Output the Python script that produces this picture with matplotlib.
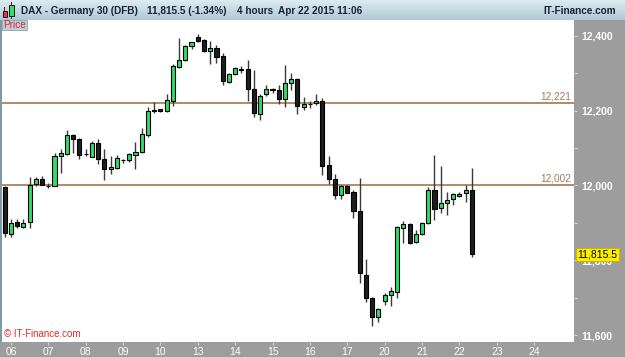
import matplotlib
matplotlib.use('Agg')
import matplotlib.pyplot as plt
import numpy as np
from matplotlib.patches import Rectangle
from matplotlib.transforms import blended_transform_factory
from matplotlib.ticker import MultipleLocator, FuncFormatter

plt.rcParams['font.family'] = ['Liberation Sans', 'DejaVu Sans']

# ---------------- data (4-hour candles, DAX DFB) ----------------
opens = [11997, 11869, 11901, 11890, 11901, 12003, 12018, 11999, 11999, 12079,
         12084, 12136, 12124, 12083, 12077, 12113, 12070, 12043, 12047, 12068,
         12068, 12081, 12089, 12135, 12202, 12204, 12198, 12227, 12318, 12335,
         12374, 12398, 12389, 12360, 12368, 12346, 12277, 12297, 12311, 12311,
         12257, 12191, 12245, 12257, 12255, 12230, 12273, 12284, 12211, 12218,
         12220, 12226, 12055, 12016, 11974, 11999, 11982, 11932, 11761, 11698,
         11647, 11690, 11707, 11716, 11886, 11896, 11848, 11869, 11899, 11988,
         11939, 11954, 11964, 11973, 11979, 11988]
highs = [11999, 11910, 11910, 11910, 12023, 12023, 12026, 12007, 12088, 12097,
         12148, 12138, 12126, 12097, 12120, 12125, 12098, 12079, 12082, 12070,
         12088, 12117, 12153, 12209, 12224, 12205, 12244, 12324, 12395, 12376,
         12384, 12404, 12392, 12387, 12376, 12355, 12301, 12316, 12319, 12336,
         12309, 12245, 12268, 12261, 12269, 12322, 12300, 12286, 12236, 12225,
         12245, 12233, 12079, 12030, 12001, 12001, 11988, 12019, 11803, 11702,
         11672, 11712, 11729, 11892, 11906, 11900, 11881, 11902, 11997, 12082,
         12052, 11983, 11979, 11983, 12001, 12046]
lows = [11863, 11863, 11886, 11886, 11886, 11999, 12001, 11993, 11999, 12034,
        12082, 12086, 12070, 12079, 12076, 12057, 12015, 12031, 12045, 12059,
        12064, 12044, 12087, 12129, 12193, 12196, 12196, 12213, 12315, 12333,
        12365, 12384, 12358, 12325, 12327, 12268, 12274, 12295, 12300, 12227,
        12184, 12175, 12239, 12246, 12218, 12209, 12255, 12191, 12202, 12208,
        12215, 12028, 12003, 11965, 11965, 11979, 11912, 11740, 11689, 11625,
        11636, 11680, 11678, 11698, 11847, 11844, 11846, 11868, 11897, 11908,
        11926, 11921, 11948, 11970, 11957, 11810]
closes = [11874, 11900, 11892, 11900, 12000, 12016, 12002, 11999.5, 12079, 12086,
          12134, 12124, 12081, 12083.5, 12113, 12070, 12043, 12050, 12073, 12068.5,
          12083, 12089, 12137, 12200, 12198, 12198, 12228, 12319, 12336, 12372,
          12383, 12387, 12360, 12368, 12344, 12280, 12298, 12313, 12310, 12257,
          12193, 12239, 12257, 12256, 12230, 12275, 12284, 12212, 12217, 12217,
          12225, 12053, 12016, 11974, 11999, 11981, 11932, 11765, 11698, 11647,
          11669, 11707, 11718, 11888, 11897, 11847, 11869, 11899, 11988, 11936,
          11954, 11961, 11976, 11976, 11988, 11815.5]

day_labels = ['06', '07', '08', '09', '10', '13', '14', '15', '16', '17',
              '20', '21', '22', '23', '24']
candles_per_day = 6
first_day_offset = 1

levels = [12221, 12002]
last_price = 11815.5

header_items = ['DAX - Germany 30 (DFB)', '11,815.5 (-1.34%)', '4 hours',
                'Apr 22 2015 11:06']

# ---------------- figure ----------------
W, H = 625, 357
fig = plt.figure(figsize=(W / 100, H / 100), dpi=100)
fig.patch.set_facecolor('#9d9d9d')

ax = fig.add_axes([2 / W, (H - 342) / H, (574 - 2) / W, (342 - 20) / H])
ax.set_facecolor('white')
ax.set_xlim(-0.43, 91.4)
ax.set_ylim(11581.4, 12442.4)

o = np.array(opens, float)
c = np.array(closes, float)
hi = np.array(highs, float)
lo = np.array(lows, float)
x = np.arange(len(o))
up = c > o
body_bottom = np.minimum(o, c)
body_h = np.maximum(np.abs(c - o), 0.6)
colors = np.where(up, '#2fdc66', '#1e1e1e')

ax.vlines(x, lo, hi, color='#3a3a3a', linewidth=1.0, zorder=2)
ax.bar(x, body_h, bottom=body_bottom, width=0.66, color=colors,
       edgecolor='black', linewidth=0.8, zorder=3)

# support / resistance levels
trans = blended_transform_factory(ax.transAxes, ax.transData)
for lv in levels:
    ax.axhline(lv, color='#a9825f', linewidth=1.3, zorder=1)
    ax.text(0.995, lv + 4, f'{lv:,}', transform=trans, ha='right', va='bottom',
            color='#a47a55', fontsize=7.2, zorder=4)

# axes styling
for s in ax.spines.values():
    s.set_visible(False)
ax.yaxis.tick_right()
ax.yaxis.set_major_locator(MultipleLocator(200))
ax.yaxis.set_minor_locator(MultipleLocator(100))
ax.yaxis.set_major_formatter(FuncFormatter(lambda v, p: f'{v:,.0f}'))
ax.tick_params(axis='y', which='both', direction='out', length=2.5, width=0.8,
               color='#d8d8d8', labelcolor='white', labelsize=7.5, pad=2.5)
for lab in ax.get_yticklabels():
    lab.set_fontweight('bold')

xt = [first_day_offset + candles_per_day * k for k in range(len(day_labels))]
ax.set_xticks(xt)
ax.set_xticklabels(day_labels)
ax.tick_params(axis='x', direction='out', length=2.5, width=0.8, color='#d8d8d8',
               labelcolor='white', labelsize=7.5, pad=1.2)

# last price marker
ax.text(1.006, last_price, f'{last_price:,.1f}', transform=trans, ha='left',
        va='center', color='black', fontsize=7.5, clip_on=False, zorder=10,
        bbox=dict(boxstyle='square,pad=0.12', facecolor='#ffee00',
                  edgecolor='#c9b800', linewidth=0.8))

# watermark
ax.text(0.004, 0.026, '\u00a9 IT-Finance.com', transform=ax.transAxes,
        color='#e62a2a', fontsize=7, va='center', ha='left')

# left border
fig.add_artist(Rectangle((0, (H - 342) / H), 2 / W, (342 - 20) / H,
                         transform=fig.transFigure, facecolor='#7f9aa6',
                         edgecolor='none'))

# header bar with gradient
hax = fig.add_axes([0, (H - 20) / H, 1, 20 / H])
top = np.array([0.87, 0.92, 0.94])
bot = np.array([0.69, 0.79, 0.84])
grad = np.linspace(0, 1, 20)[:, None, None] * (bot - top) + top
hax.imshow(np.repeat(grad, 10, axis=1), aspect='auto', extent=[0, 1, 0, 1])
hax.set_xlim(0, 1)
hax.set_ylim(0, 1)
hax.axis('off')

hx = [21, 147, 237, 278]
for t, px in zip(header_items, hx):
    fig.text(px / W, (H - 11) / H, t, fontsize=7.2, fontweight='bold',
             color='#1a2236', va='center', ha='left')
fig.text(616 / W, (H - 11) / H, 'IT-Finance.com', fontsize=7.2,
         fontweight='bold', color='#1a2236', va='center', ha='right')

# header icon (two small candles)
fig.add_artist(Rectangle((4 / W, (H - 18) / H), 1 / W, 11 / H,
                         transform=fig.transFigure, facecolor='#333333'))
fig.add_artist(Rectangle((2.5 / W, (H - 17) / H), 4 / W, 6 / H,
                         transform=fig.transFigure, facecolor='#e83a3a',
                         edgecolor='black', linewidth=0.6))
fig.add_artist(Rectangle((11 / W, (H - 19) / H), 1 / W, 17 / H,
                         transform=fig.transFigure, facecolor='#333333'))
fig.add_artist(Rectangle((9 / W, (H - 16) / H), 5 / W, 11 / H,
                         transform=fig.transFigure, facecolor='#35dc6a',
                         edgecolor='black', linewidth=0.6))

# "Price" tab
fig.add_artist(Rectangle((2 / W, (H - 30) / H), 25 / W, 10 / H,
                         transform=fig.transFigure, facecolor='#bccfd8',
                         edgecolor='#8aa2ad', linewidth=0.6, zorder=20))
fig.text(14.5 / W, (H - 25) / H, 'Price', fontsize=7.2, color='#e22626',
         ha='center', va='center', zorder=21)

fig.savefig('out.png', dpi=100, facecolor=fig.get_facecolor())
